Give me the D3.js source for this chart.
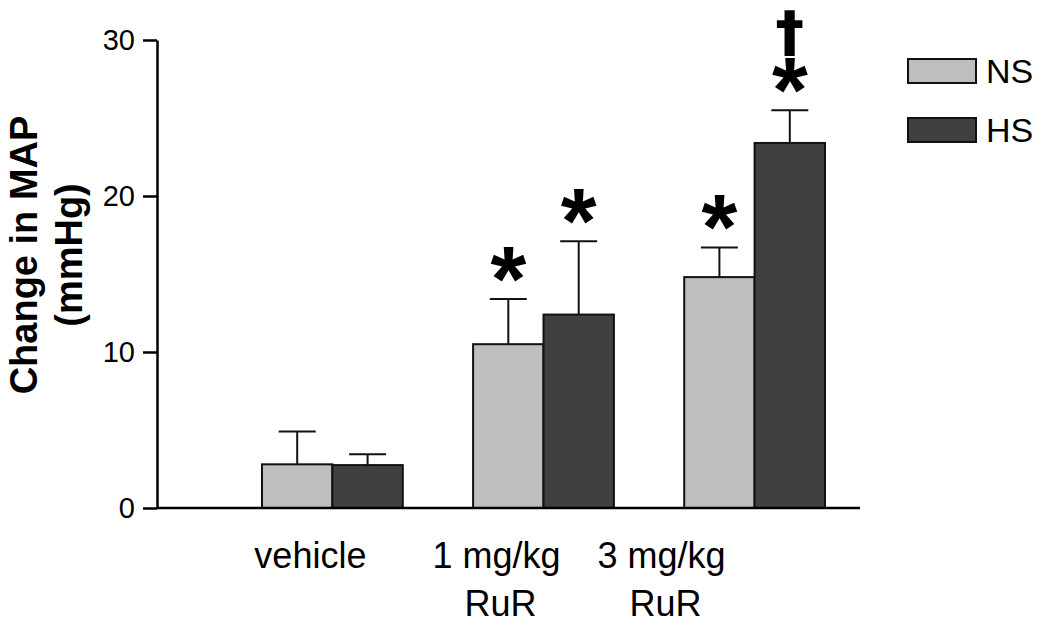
<!DOCTYPE html>
<meta charset="utf-8">
<style>
  body { margin: 0; background: #fff; }
  svg text { font-family: "Liberation Sans", Arial, sans-serif; fill: #000; }
  .axis path, .axis line { stroke: #000; stroke-width: 2.5px; }
  .axis .tick text { font-size: 29px; }
  .bar { stroke: #111; stroke-width: 2px; }
  .err { stroke: #111; stroke-width: 2px; }
</style>
<body>
<script src="https://d3js.org/d3.v7.min.js"></script>
<script>
// groups and series
var categories = ["vehicle", "1 mg/kg\nRuR", "3 mg/kg\nRuR"];
var seriesNames = ["NS", "HS"];
var nsMeans = [2.8, 10.5, 14.8];
var nsErr   = [2.1, 2.9, 1.9];
var hsMeans = [2.75, 12.4, 23.4];
var hsErr   = [0.7, 4.7, 2.1];
var nsMarks = ["", "*", "*"];
var hsMarks = ["", "*", "*"];
var hsDagger = ["", "", "\u2020"];
var yTicks = [0, 10, 20, 30];
var colors = ["#bebebe", "#404040"];

var width = 1050, height = 626;
var svg = d3.select("body").append("svg")
    .attr("width", width)
    .attr("height", height);

var y = d3.scaleLinear().domain([0, 30]).range([508, 40]);
var x0 = d3.scaleBand().domain(categories).range([262, 825])
    .paddingInner(0.333).paddingOuter(0);
var x1 = d3.scaleBand().domain(seriesNames).range([0, x0.bandwidth()]);

var rows = [];
categories.forEach(function (c, i) {
  rows.push({ cat: c, s: "NS", v: nsMeans[i], e: nsErr[i], mark: nsMarks[i], dag: "" });
  rows.push({ cat: c, s: "HS", v: hsMeans[i], e: hsErr[i], mark: hsMarks[i], dag: hsDagger[i] });
});

// error bars (drawn under bars so the stem starts at bar top)
var errG = svg.append("g");
rows.forEach(function (d) {
  var cx = x0(d.cat) + x1(d.s) + x1.bandwidth() / 2;
  errG.append("line").attr("class", "err")
    .attr("x1", cx).attr("x2", cx)
    .attr("y1", y(d.v)).attr("y2", y(d.v + d.e));
  errG.append("line").attr("class", "err")
    .attr("x1", cx - 18.5).attr("x2", cx + 18.5)
    .attr("y1", y(d.v + d.e)).attr("y2", y(d.v + d.e));
});

svg.append("g").selectAll("rect")
  .data(rows)
  .join("rect")
    .attr("class", "bar")
    .attr("x", function (d) { return x0(d.cat) + x1(d.s); })
    .attr("y", function (d) { return y(d.v); })
    .attr("width", x1.bandwidth())
    .attr("height", function (d) { return y(0) - y(d.v); })
    .attr("fill", function (d) { return d.s === "NS" ? colors[0] : colors[1]; });

// significance marks: asterisk, with the dagger stacked above it in the same text
rows.forEach(function (d) {
  if (!d.mark) return;
  var cx = x0(d.cat) + x1(d.s) + x1.bandwidth() / 2;
  var top = y(d.v + d.e);
  var t = svg.append("text")
      .attr("x", cx).attr("y", top + 12)
      .attr("text-anchor", "middle")
      .style("font-weight", "bold");
  if (d.dag) {
    t.append("tspan")
      .attr("x", cx).attr("y", top - 60)
      .style("font-family", "'DejaVu Sans', sans-serif")
      .style("font-size", "54px")
      .style("stroke", "#000")
      .style("stroke-width", "1.5px")
      .text(d.dag);
  }
  t.append("tspan")
    .attr("x", cx).attr("y", top + 12)
    .style("font-size", "92px")
    .text(d.mark);
});

// y axis
svg.append("g")
    .attr("class", "axis")
    .attr("transform", "translate(157,0)")
    .call(d3.axisLeft(y).tickValues(yTicks).tickSize(14).tickSizeOuter(0).tickPadding(8));

// x axis
var labelDx = [-22, -47, -93];
var xa = svg.append("g")
    .attr("class", "axis")
    .attr("transform", "translate(0,508)")
    .call(d3.axisBottom(x0).tickSize(0).tickPadding(0));
xa.select(".domain").remove();
xa.append("line").attr("x1", 157).attr("x2", 860).attr("y1", 0).attr("y2", 0);
xa.selectAll(".tick text").each(function (d, i) {
  var t = d3.select(this).text("").attr("dy", null).attr("y", 60)
      .attr("x", labelDx[i]).style("font-size", "36px");
  d.split("\n").forEach(function (line, j) {
    t.append("tspan").attr("x", labelDx[i] + (j ? 4 : 0)).attr("dy", j ? 48 : 0).text(line);
  });
});

// y axis title
var yt = svg.append("text")
    .attr("transform", "translate(0,255) rotate(-90)")
    .attr("text-anchor", "middle")
    .style("font-size", "38px")
    .style("font-weight", "bold");
yt.append("tspan").attr("x", 0).attr("y", 37).text("Change in MAP");
yt.append("tspan").attr("x", 0).attr("y", 82).text("(mmHg)");

// legend
var lg = svg.append("g");
seriesNames.forEach(function (s, i) {
  lg.append("rect").attr("class", "bar")
    .attr("x", 908).attr("y", 59 + i * 59)
    .attr("width", 68).attr("height", 24)
    .attr("fill", colors[i]);
  lg.append("text")
    .attr("x", 986).attr("y", 71 + i * 59)
    .attr("dy", "0.36em")
    .style("font-size", "34px")
    .text(s);
});
</script>
</body>
